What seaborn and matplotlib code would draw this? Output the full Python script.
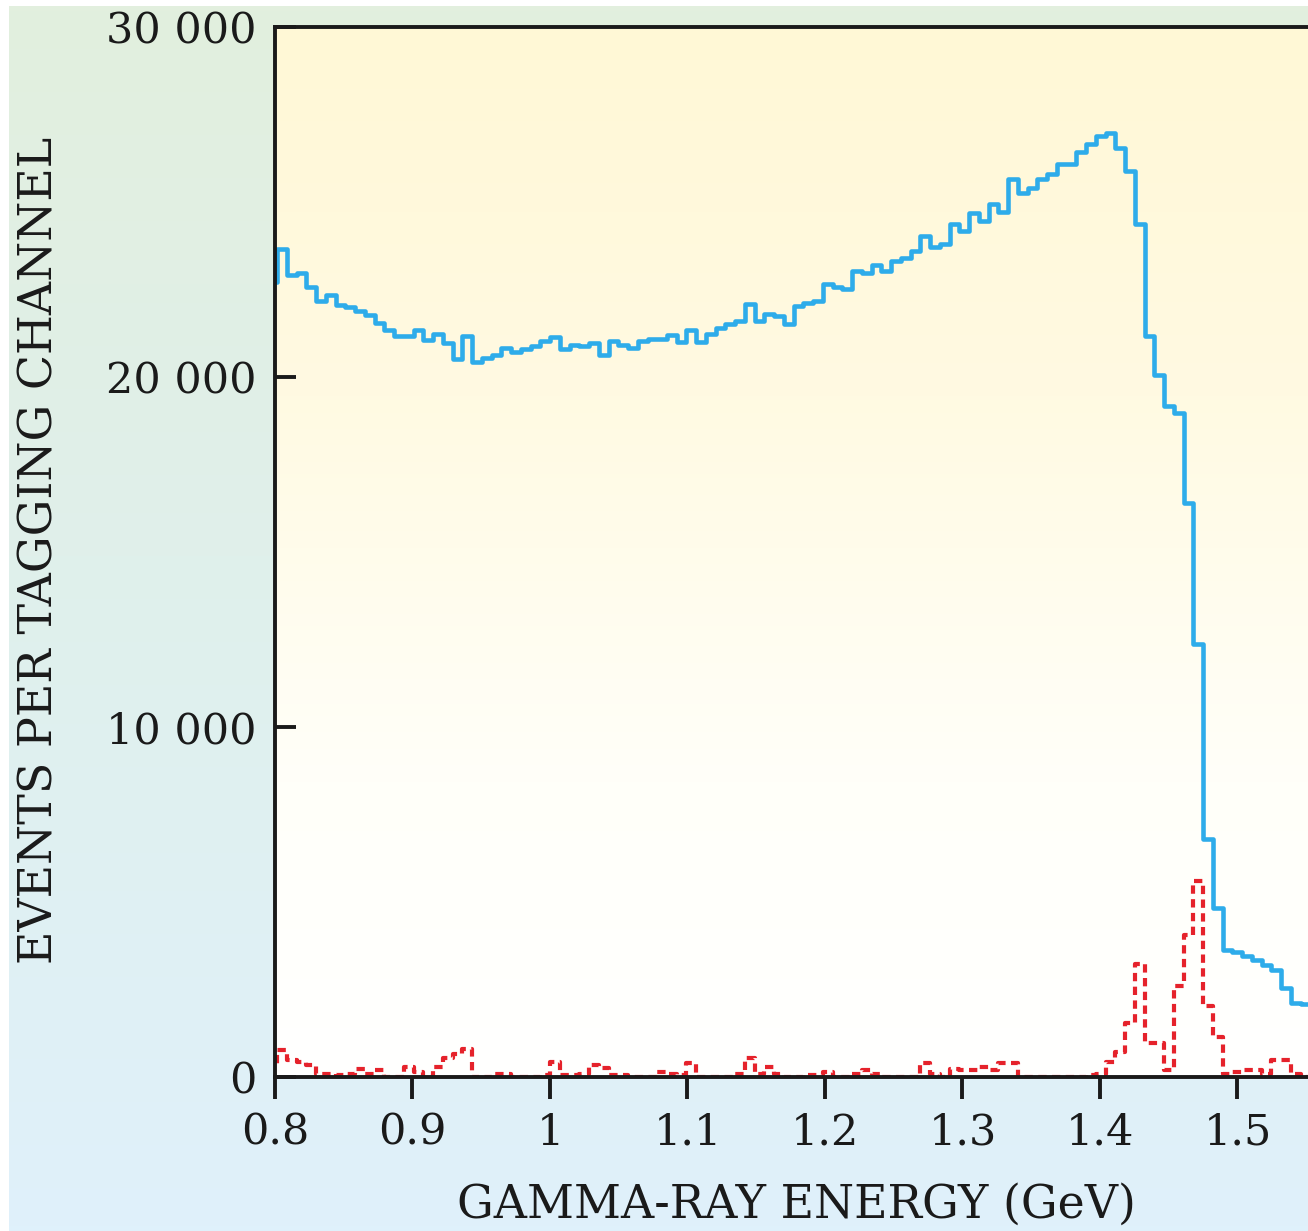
import numpy as np
import pandas as pd
import matplotlib
matplotlib.use("Agg")
import matplotlib.pyplot as plt
import seaborn as sns
from matplotlib.colors import LinearSegmentedColormap

# ---------------- data ----------------
# tagging channels: left edge of the first (partly hidden) channel and channel width, GeV
channel_start = 0.794364
channel_width = 0.0070909

# events per tagging channel (solid blue histogram)
events_total = [
    22700, 23670, 22900, 22980, 22580, 22170, 22330, 22070, 21990, 21880,
    21780, 21550, 21350, 21160, 21160, 21340, 21050, 21240, 20970, 20510,
    21160, 20420, 20530, 20630, 20820, 20700, 20800, 20880, 21040, 21130,
    20810, 20920, 20880, 20970, 20620, 21040, 20900, 20830, 21020, 21080,
    21080, 21210, 21000, 21330, 21000, 21230, 21400, 21520, 21590, 22090,
    21590, 21800, 21740, 21500, 22020, 22120, 22180, 22670, 22580, 22500,
    23030, 22960, 23190, 23030, 23320, 23410, 23600, 24030, 23720, 23790,
    24360, 24170, 24680, 24460, 24950, 24720, 25650, 25250, 25410, 25670,
    25790, 26080, 26080, 26440, 26650, 26880, 26960, 26540, 25880, 24360,
    21160, 20060, 19160, 18970, 16390, 12380, 6790, 4830, 3640, 3560,
    3450, 3330, 3210, 3065, 2540, 2110, 2100,
]

# events per tagging channel (dashed red histogram)
events_selected = [
    300, 780, 500, 440, 350, 100, 100, 50, 100, 230,
    100, 200, 0, 0, 300, 150, 0, 300, 535, 650,
    800, 0, 0, 100, 100, 0, 0, 0, 50, 440,
    50, 50, 100, 330, 250, 50, 50, 0, 0, 0,
    150, 100, 50, 390, 0, 0, 0, 0, 100, 530,
    100, 300, 100, 0, 0, 50, 50, 150, 0, 0,
    100, 200, 100, 0, 0, 0, 0, 390, 100, 0,
    230, 200, 200, 300, 200, 400, 400, 0, 0, 0,
    0, 0, 0, 0, 50, 100, 440, 725, 1540, 3240,
    965, 965, 200, 2590, 4070, 5600, 2015, 1155, 100, 150,
    200, 200, 100, 490, 490, 100, 0,
]

x_ticks = [0.8, 0.9, 1.0, 1.1, 1.2, 1.3, 1.4, 1.5]
x_tick_labels = ["0.8", "0.9", "1", "1.1", "1.2", "1.3", "1.4", "1.5"]
y_ticks = [0, 10000, 20000, 30000]
y_tick_labels = ["0", "10 000", "20 000", "30 000"]

x_label = "GAMMA-RAY ENERGY (GeV)"
y_label = "EVENTS PER TAGGING CHANNEL"

n_ch = len(events_total)
edges = list(channel_start + channel_width * np.arange(n_ch + 1))
centers = [e + channel_width / 2 for e in edges[:-1]]
df = pd.DataFrame({"energy": centers,
                   "total": events_total,
                   "selected": events_selected})

# ---------------- style ----------------
sns.set_theme(style="ticks")
plt.rcParams["font.family"] = ["DejaVu Serif"]
plt.rcParams["mathtext.fontset"] = "dejavuserif"

BLUE = "#2eacea"
RED = "#e5222b"
INK = "#1a1a1a"

W, H = 1308, 1231
fig = plt.figure(figsize=(W / 100, H / 100), dpi=100)
fig.patch.set_facecolor("white")

# page background gradient (green top -> blue bottom)
bg = fig.add_axes([9 / W, 0, 1 - 9 / W, 1 - 6 / H])
bg_cmap = LinearSegmentedColormap.from_list(
    "page", [(0.0, "#e2efde"), (0.45, "#e0f0eb"), (1.0, "#dff1fb")])
bg.imshow(np.linspace(0, 1, 256).reshape(-1, 1), aspect="auto", cmap=bg_cmap,
          extent=[0, 1, 0, 1], origin="upper")
bg.set_axis_off()
bg.set_zorder(-10)

# main axes
left = 275 / W
bottom = 1 - 1077 / H
top = 1 - 27 / H
ax = fig.add_axes([left, bottom, 1 - left, top - bottom])
ax.set_facecolor("none")

# plot-area gradient (pale yellow top -> white bottom)
ax_cmap = LinearSegmentedColormap.from_list(
    "area", [(0.0, "#fff8d6"), (0.35, "#fffae2"), (0.72, "#fffff9"), (1.0, "#ffffff")])
ax.imshow(np.linspace(0, 1, 256).reshape(-1, 1), aspect="auto", cmap=ax_cmap,
          extent=[0, 1, 0, 1], origin="upper", transform=ax.transAxes, zorder=0)

sns.histplot(data=df, x="energy", weights="total", bins=edges, element="step",
             fill=False, color=BLUE, linewidth=3.3, ax=ax, zorder=3)
sns.histplot(data=df, x="energy", weights="selected", bins=edges, element="step",
             fill=False, color=RED, linewidth=3.0, linestyle=(0, (2.0, 1.3)),
             ax=ax, zorder=2)
ax.axhline(0, color=RED, linewidth=1.2, zorder=1.5)

ax.set_xlim(0.8, 0.8 + (W - 275) / 1375)
ax.set_ylim(0, 30000)

ax.set_xticks(x_ticks)
ax.set_xticklabels(x_tick_labels)
ax.set_yticks(y_ticks)
ax.set_yticklabels(y_tick_labels)

for side in ["left", "top", "bottom"]:
    ax.spines[side].set_linewidth(2.8)
    ax.spines[side].set_color(INK)
    ax.spines[side].set_zorder(5)
ax.spines["right"].set_visible(False)

ax.tick_params(axis="y", direction="in", length=15, width=2.8, pad=13,
               labelsize=31, colors=INK)
ax.tick_params(axis="x", direction="out", length=16, width=2.8, pad=9,
               labelsize=31, colors=INK)
ax.tick_params(axis="x", which="both", top=False)
ax.tick_params(axis="y", which="both", right=False)

ax.set_xlabel(x_label, fontsize=33, color=INK, va="center")
ax.set_ylabel(y_label, fontsize=33, color=INK, va="center")
ax.xaxis.set_label_coords((796 - 275) / (W - 275), (1077 - 1205) / (1077 - 27))
ax.yaxis.set_label_coords((40 - 275) / (W - 275), (1077 - 550) / (1077 - 27))

fig.savefig("out.png", dpi=100)
